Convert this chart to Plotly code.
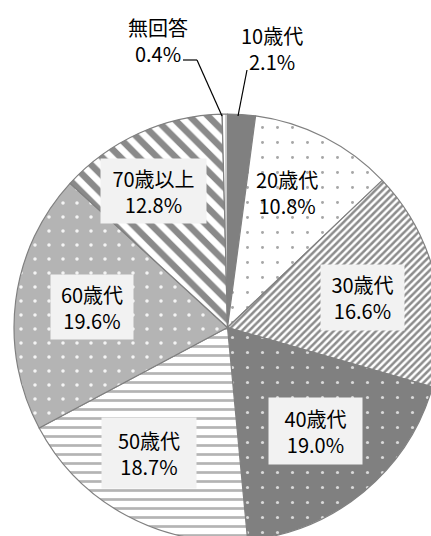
import plotly.graph_objects as go

# Respondent age groups (share of total, %)
categories = ["10歳代", "20歳代", "30歳代", "40歳代", "50歳代", "60歳代", "70歳以上", "無回答"]
shares = [2.1, 10.8, 16.6, 19.0, 18.7, 19.6, 12.8, 0.4]

# Canvas and pie placement (pixels)
W, H = 441, 541
ML, MT = 14, 114
PW, PH = W - ML, H - MT


def px(x):
    return (x - ML) / PW


def py(y):
    return 1 - (y - MT) / PH


GRAY = "#808080"

# Fill patterns per slice
shapes_pat = ["", ".", "/", ".", "-", ".", "\\", "|"]
fg = [GRAY, "#a6a6a6", "#8c8c8c", "#d9d9d9", "#b4b4b4", "#f4f4f4", "#8a8a8a", "#b0b0b0"]
bg = [GRAY, "#ffffff", "#ffffff", GRAY, "#ffffff", "#b4b4b4", "#ffffff", "#ffffff"]
psize = [8, 15, 5, 15, 9, 14, 13, 4]
psolid = [0.3, 0.03, 0.5, 0.035, 0.3, 0.05, 0.5, 0.3]

fig = go.Figure(
    go.Pie(
        labels=categories,
        values=shares,
        sort=False,
        direction="clockwise",
        rotation=0,
        textinfo="none",
        hoverinfo="label+percent",
        marker=dict(
            colors=bg,
            line=dict(color=GRAY, width=1.2),
            pattern=dict(
                shape=shapes_pat,
                fgcolor=fg,
                bgcolor=bg,
                size=psize,
                solidity=psolid,
                fillmode="replace",
            ),
        ),
        domain=dict(x=[0, 1], y=[0, 1]),
        showlegend=False,
    )
)

FONT = dict(family="Noto Sans CJK JP", size=20, color="#000000")

# Label centers and boxes (pixels): (cx, cy, box_w, box_h, boxed)
label_layout = {
    "10歳代": (272, 48, None, None, False),
    "20歳代": (287, 192, None, None, False),
    "30歳代": (362, 297, 81, 63, True),
    "40歳代": (315, 431, 91, 64, True),
    "50歳代": (149, 453, 92, 68, True),
    "60歳代": (92, 307, 80, 62, True),
    "70歳以上": (153, 191, 103, 62, True),
    "無回答": (158, 40, None, None, False),
}

annotations = []
for cat, val in zip(categories, shares):
    cx, cy, bw, bh, boxed = label_layout[cat]
    ann = dict(
        x=px(cx), y=py(cy), xref="paper", yref="paper",
        text=f"{cat}<br>{val:.1f}%", showarrow=False,
        font=FONT, align="center", xanchor="center", yanchor="middle",
    )
    if boxed:
        ann.update(bgcolor="#f2f2f2", width=bw, height=bh, valign="middle")
    annotations.append(ann)

# Leader lines for the small slices
leaders = [
    [(247, 70), (238, 116)],
    [(183, 60), (197, 60), (222, 116)],
]
shapes = []
for pts in leaders:
    for (x0, y0), (x1, y1) in zip(pts[:-1], pts[1:]):
        shapes.append(dict(
            type="line", xref="paper", yref="paper",
            x0=px(x0), y0=py(y0), x1=px(x1), y1=py(y1),
            line=dict(color="#000000", width=1.2),
        ))

fig.update_layout(
    width=W, height=H,
    margin=dict(l=ML, r=0, t=MT, b=0, pad=0),
    paper_bgcolor="white",
    plot_bgcolor="white",
    annotations=annotations,
    shapes=shapes,
)

fig.write_html(
    "out.html",
    post_script="document.documentElement.style.overflow='hidden';"
                "document.body.style.overflow='hidden';document.body.style.margin='0';",
)
